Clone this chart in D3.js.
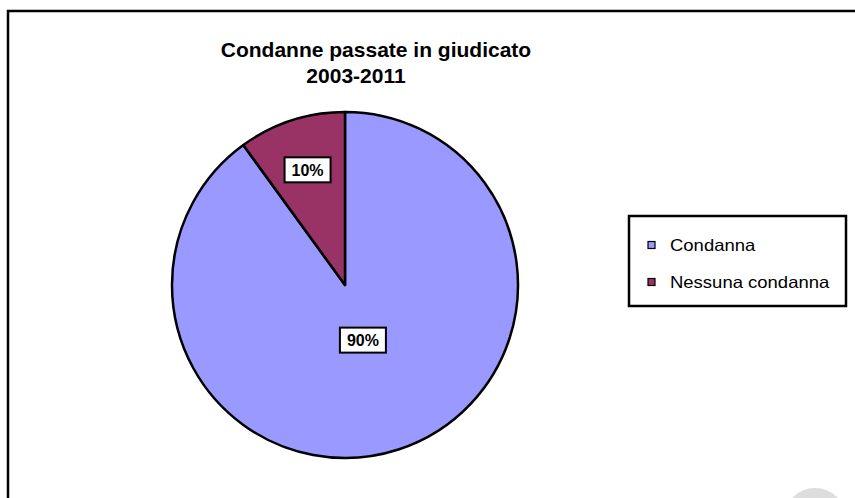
<!DOCTYPE html>
<html>
<head>
<meta charset="utf-8">
<script src="https://cdn.jsdelivr.net/npm/d3@7"></script>
<style>
  body { margin: 0; background: #fff; }
  svg { display: block; font-family: "Liberation Sans", Arial, sans-serif; }
</style>
</head>
<body>
<div id="chart"></div>
<script>
// data
var categories = ["Condanna", "Nessuna condanna"];
var values = [90, 10];
var colors = ["#9999ff", "#993366"];
var titleLines = ["Condanne passate in giudicato", "2003-2011"];

var width = 855;
var height = 498;

var svg = d3.select('#chart')
  .append('svg')
  .attr('width', width)
  .attr('height', height);

// chart frame (runs off the right and bottom edge in the original)
svg.append('rect')
  .attr('x', 8)
  .attr('y', 11)
  .attr('width', 900)
  .attr('height', 600)
  .attr('fill', '#fff')
  .attr('stroke', '#000')
  .attr('stroke-width', 2.5);

// title, two lines, each centred a bit differently like the source
var titleX = [376, 356];
var titleY = [57, 83];
svg.append('g')
  .selectAll('text')
  .data(titleLines)
  .enter().append('text')
    .attr('x', function(d, i) { return titleX[i]; })
    .attr('y', function(d, i) { return titleY[i]; })
    .attr('text-anchor', 'middle')
    .attr('font-size', 21)
    .attr('font-weight', 'bold')
    .text(function(d) { return d; });

// pie
var cx = 345, cy = 285, r = 173;
var pie = d3.pie().sort(null);
var arcs = pie(values);
var arc = d3.arc().innerRadius(0).outerRadius(r);

var g = svg.append('g')
  .attr('transform', 'translate(' + cx + ',' + cy + ')');

g.selectAll('path')
  .data(arcs)
  .enter().append('path')
    .attr('d', arc)
    .attr('fill', function(d, i) { return colors[i]; })
    .attr('stroke', '#000')
    .attr('stroke-width', 2.5)
    .attr('stroke-linejoin', 'round');

// percentage labels in boxes; small slice label sits further out
var labelFactor = [0.335, 0.7];
var total = d3.sum(values);
var labels = g.selectAll('g.label')
  .data(arcs)
  .enter().append('g')
    .attr('class', 'label')
    .attr('transform', function(d, i) {
      var la = d3.arc().innerRadius(r * labelFactor[i]).outerRadius(r * labelFactor[i]);
      var c = la.centroid(d);
      return 'translate(' + c[0] + ',' + c[1] + ')';
    });

labels.append('rect')
  .attr('x', -23)
  .attr('y', -12.5)
  .attr('width', 46)
  .attr('height', 25)
  .attr('fill', '#fff')
  .attr('stroke', '#000')
  .attr('stroke-width', 2);

labels.append('text')
  .attr('text-anchor', 'middle')
  .attr('y', 6)
  .attr('font-size', 16)
  .attr('font-weight', 'bold')
  .text(function(d) { return Math.round(d.value / total * 100) + '%'; });

// legend
var legend = svg.append('g');
legend.append('rect')
  .attr('x', 629)
  .attr('y', 216)
  .attr('width', 217)
  .attr('height', 90)
  .attr('fill', '#fff')
  .attr('stroke', '#000')
  .attr('stroke-width', 2.5);

var rowY = d3.scalePoint().domain(categories).range([245, 282]);

var rows = legend.selectAll('g.row')
  .data(categories)
  .enter().append('g')
    .attr('class', 'row')
    .attr('transform', function(d) { return 'translate(0,' + rowY(d) + ')'; });

rows.append('rect')
  .attr('x', 648)
  .attr('y', -3.5)
  .attr('width', 7)
  .attr('height', 7)
  .attr('fill', function(d, i) { return colors[i]; })
  .attr('stroke', '#000')
  .attr('stroke-width', 1.2);

// legend text in the source is a little stretched sideways
rows.append('text')
  .attr('x', 670)
  .attr('y', 6)
  .attr('font-size', 16.5)
  .text(function(d) { return d; })
  .each(function() {
    var w = this.getComputedTextLength();
    d3.select(this)
      .attr('textLength', w * 1.12)
      .attr('lengthAdjust', 'spacingAndGlyphs');
  });

// faint grey disc in the bottom right corner of the source image
svg.append('circle')
  .attr('cx', 815)
  .attr('cy', 519)
  .attr('r', 31)
  .attr('fill', '#dddddd');
</script>
</body>
</html>
